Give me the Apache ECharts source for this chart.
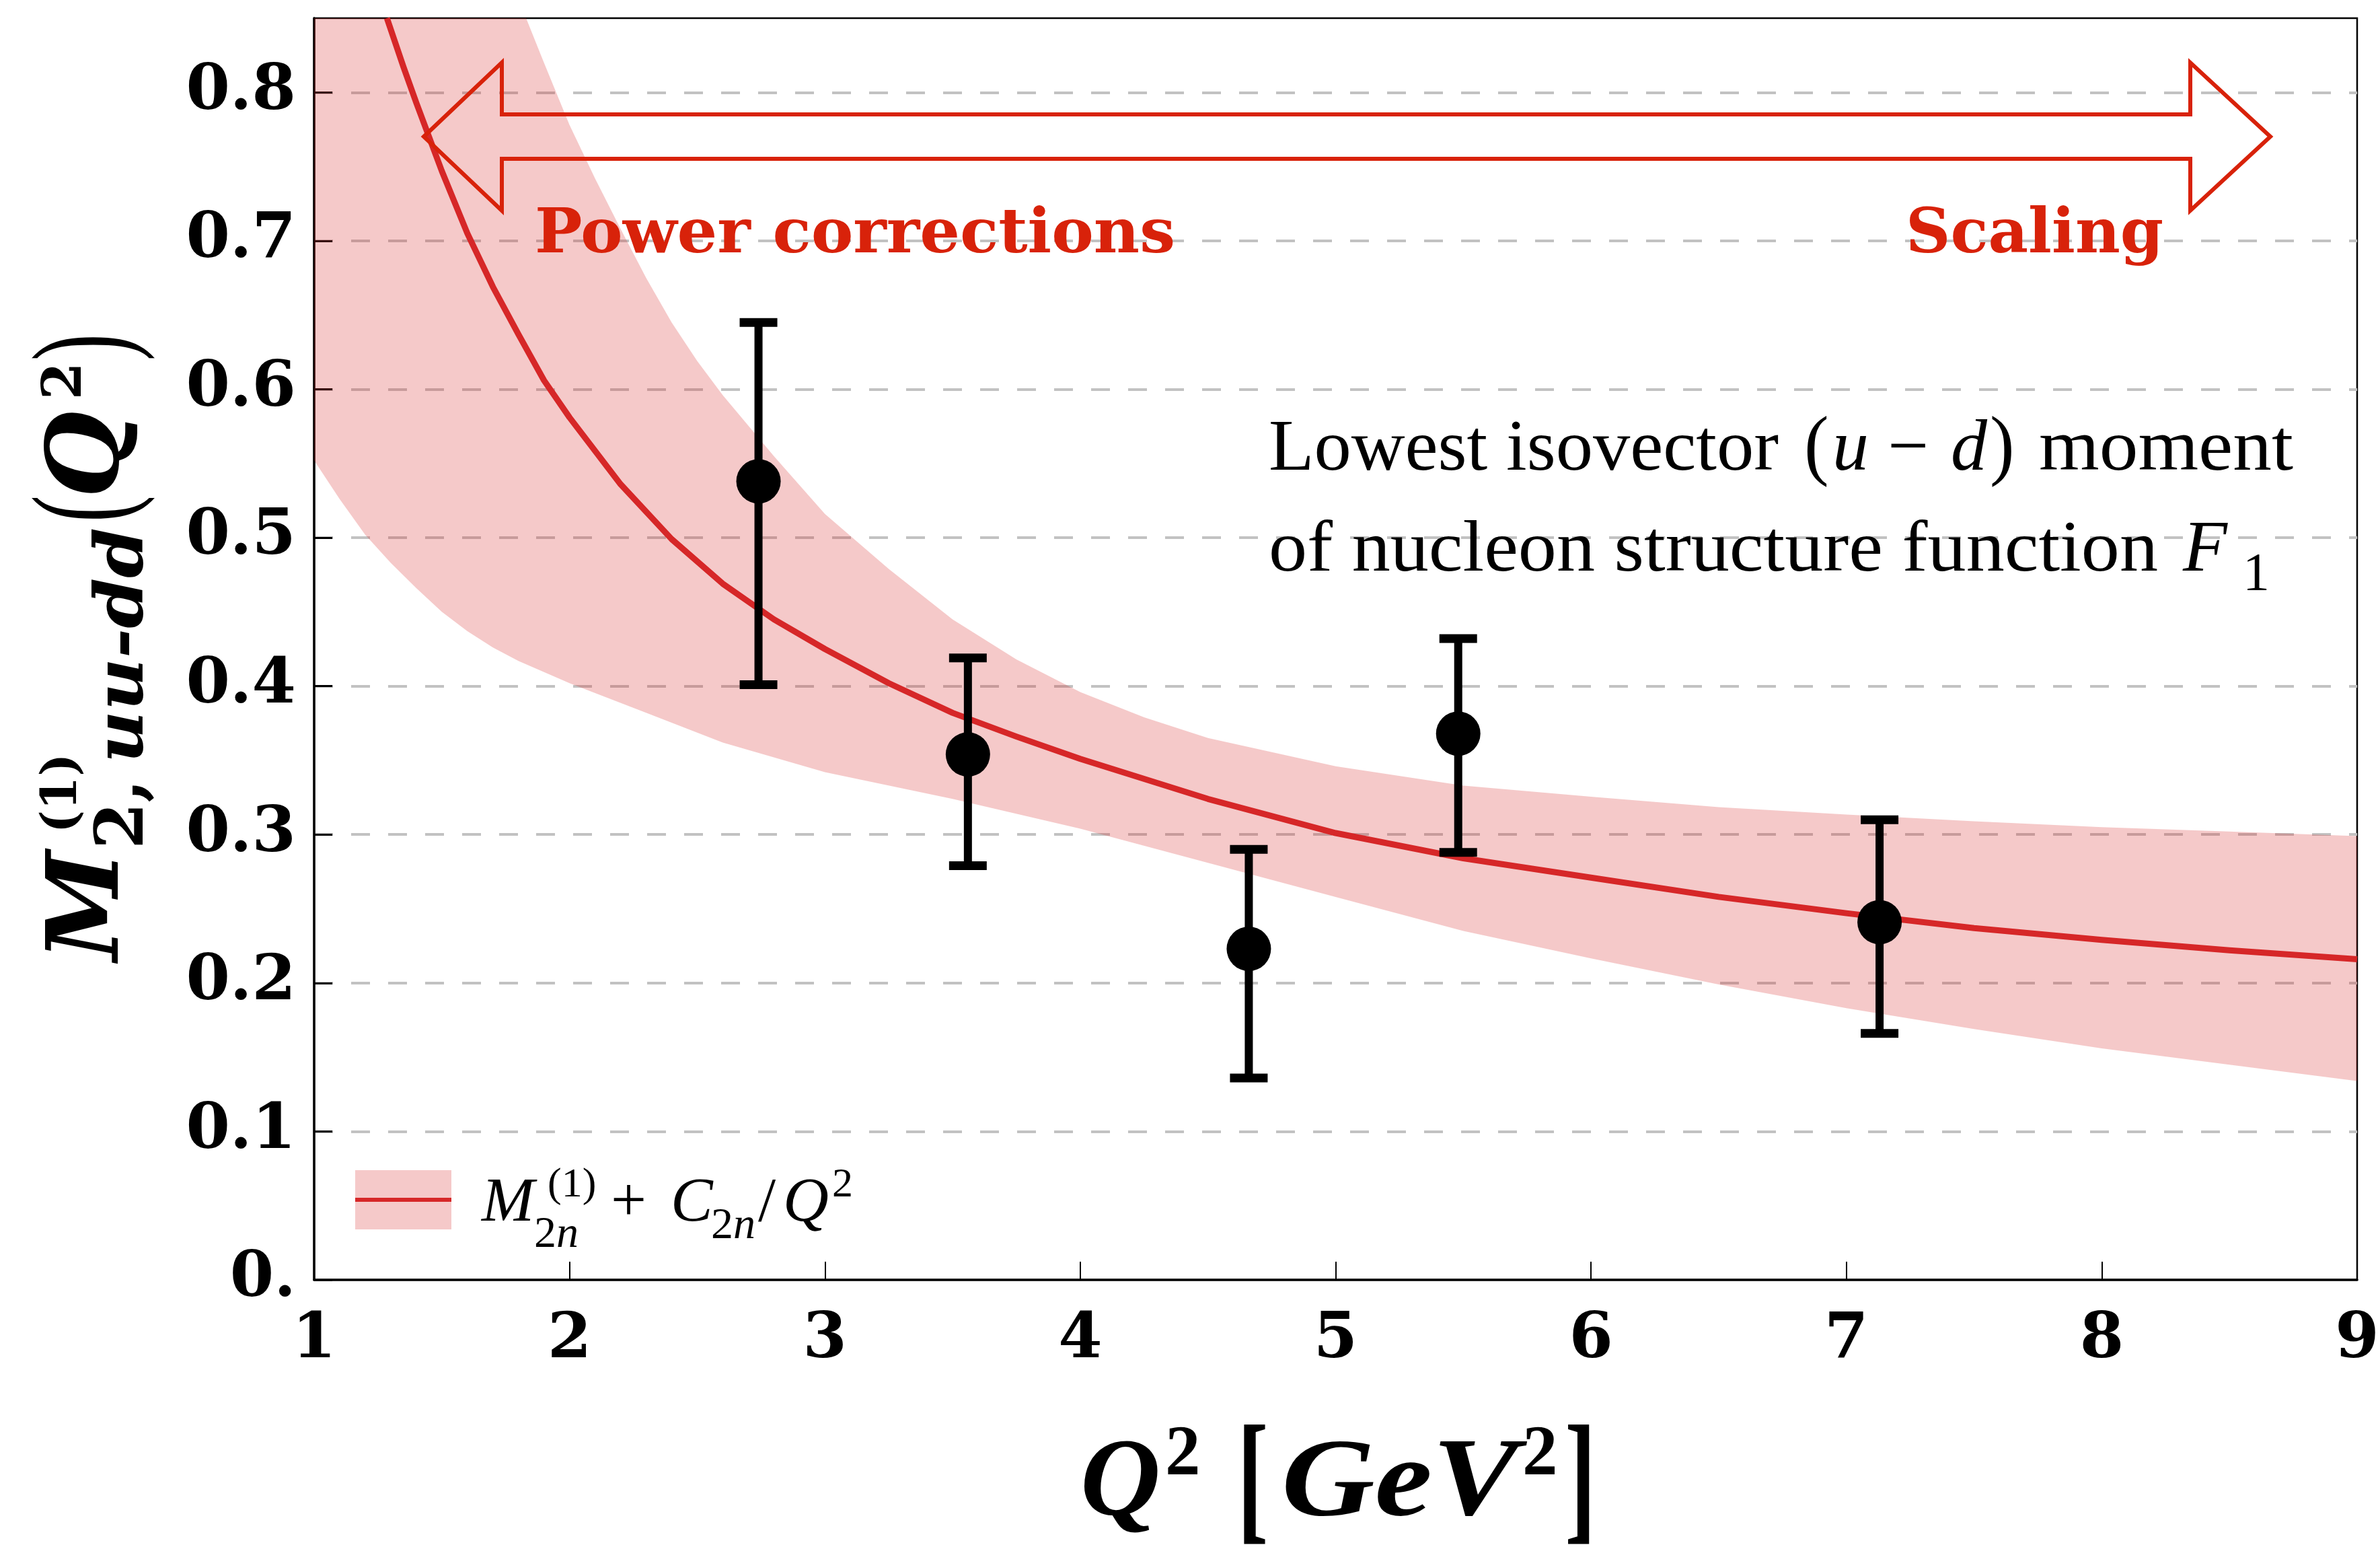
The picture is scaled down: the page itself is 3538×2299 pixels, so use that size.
<!DOCTYPE html>
<html>
<head>
<meta charset="utf-8">
<script src="https://cdn.jsdelivr.net/npm/echarts@6/dist/echarts.min.js"></script>
<style>
  html, body { margin: 0; padding: 0; background: #ffffff; }
  #chart { width: 3538px; height: 2299px; }
</style>
</head>
<body>
<div id="chart"></div>
<script>
// ---- Lattice data: lowest isovector moment vs Q^2 ----
const q2Points     = [2.74, 3.56, 4.66, 5.48, 7.13];
const momentValues = [0.538, 0.354, 0.223, 0.368, 0.241];
const errLower     = [0.401, 0.279, 0.136, 0.288, 0.166];
const errUpper     = [0.645, 0.419, 0.290, 0.432, 0.310];

// ---- Fit M + C/Q^2 : central curve ----
const fitQ2      = [1.285, 1.35, 1.4, 1.5, 1.6, 1.7, 1.8, 1.9, 2.0, 2.2, 2.4, 2.6, 2.8, 3.0, 3.25, 3.5, 3.75, 4.0, 4.5, 5.0, 5.5, 6.0, 6.5, 7.0, 7.5, 8.0, 8.5, 9.0];
const fitCentral = [0.85, 0.817, 0.793, 0.747, 0.705, 0.669, 0.637, 0.606, 0.581, 0.536, 0.499, 0.469, 0.445, 0.425, 0.402, 0.382, 0.366, 0.351, 0.324, 0.301, 0.284, 0.271, 0.258, 0.247, 0.237, 0.229, 0.222, 0.216];

// ---- Fit uncertainty band (upper edge runs off the top of the frame below Q^2 ~ 1.83) ----
const bandUpperQ2 = [1.0, 1.83, 1.9, 2.0, 2.1, 2.2, 2.3, 2.4, 2.5, 2.6, 2.8, 3.0, 3.25, 3.5, 3.75, 4.0, 4.25, 4.5, 5.0, 5.5, 6.0, 6.5, 7.0, 7.5, 8.0, 8.5, 9.0];
const bandUpper   = [0.85, 0.85, 0.820, 0.778, 0.742, 0.708, 0.675, 0.645, 0.619, 0.596, 0.555, 0.516, 0.479, 0.445, 0.418, 0.396, 0.379, 0.365, 0.346, 0.333, 0.3255, 0.3185, 0.3135, 0.309, 0.305, 0.302, 0.299];
const bandLowerQ2 = [1.0, 1.1, 1.2, 1.3, 1.4, 1.5, 1.6, 1.7, 1.8, 2.0, 2.3, 2.6, 3.0, 3.5, 4.0, 4.5, 5.0, 5.5, 6.0, 6.5, 7.0, 7.5, 8.0, 8.5, 9.0];
const bandLower   = [0.552, 0.526, 0.502, 0.483, 0.466, 0.450, 0.437, 0.426, 0.417, 0.402, 0.382, 0.362, 0.342, 0.324, 0.304, 0.281, 0.258, 0.235, 0.2166, 0.199, 0.183, 0.169, 0.156, 0.145, 0.134];

// ---- Axis ticks ----
const xTicks = [1, 2, 3, 4, 5, 6, 7, 8, 9];
const yTicks = [0, 0.1, 0.2, 0.3, 0.4, 0.5, 0.6, 0.7, 0.8];

// ---- Styling ----
const RED = '#d62728';
const ANNOT_RED = '#d8220a';
const BAND = 'rgba(214,39,40,0.25)';
const SERIF = '"DejaVu Serif"';
const TIMES = '"Liberation Serif"';

// ---- Text helpers: place runs on an alphabetic baseline ----
const mctx = document.createElement('canvas').getContext('2d');
function fontOf(o) {
  return (o.italic ? 'italic ' : '') + (o.bold ? 'bold ' : '') + o.size + 'px ' + o.family;
}
function baseShift(f) {
  mctx.font = f;
  mctx.textBaseline = 'alphabetic';
  const a = mctx.measureText('Hg').actualBoundingBoxAscent;
  mctx.textBaseline = 'middle';
  const m = mctx.measureText('Hg').actualBoundingBoxAscent;
  mctx.textBaseline = 'alphabetic';
  return a - m;
}
function textWidth(t, o) {
  mctx.font = fontOf(o);
  mctx.textBaseline = 'alphabetic';
  return mctx.measureText(t).width;
}
// a run of text; optional width stretches it horizontally to that advance width
function run(t, o, x, baseline, fill, width) {
  const f = fontOf(o);
  const el = { type: 'text', x: x, y: baseline - baseShift(f), z: 100,
    style: { text: t, font: f, fill: fill || '#000', align: 'left', verticalAlign: 'middle' } };
  if (width) el.scaleX = width / textWidth(t, o);
  return el;
}
// stretched delimiter centred at `center` with ink height `height`
function delim(t, o, x, center, height, fill) {
  const f = fontOf(o);
  mctx.font = f;
  mctx.textBaseline = 'middle';
  const m = mctx.measureText(t);
  mctx.textBaseline = 'alphabetic';
  const asc = m.actualBoundingBoxAscent, desc = m.actualBoundingBoxDescent;
  const s = height / (asc + desc);
  return { type: 'text', x: x, y: center - s * (desc - asc) / 2, scaleY: s, z: 100,
    style: { text: t, font: f, fill: fill || '#000', align: 'left', verticalAlign: 'middle' } };
}

// ---- Graphic annotations ----
const graphics = [];

// double-headed hollow arrow
graphics.push({
  type: 'polygon', z: 90,
  shape: { points: [[630, 203], [746, 93], [746, 170], [3256, 170], [3256, 93], [3375, 203],
                    [3256, 313], [3256, 236], [746, 236], [746, 313]] },
  style: { fill: 'none', stroke: ANNOT_RED, lineWidth: 6, lineJoin: 'miter' }
});
const fRed = { family: SERIF, bold: true, size: 92 };
graphics.push(run('Power corrections', fRed, 795, 375, ANNOT_RED, 952));
graphics.push(run('Scaling', fRed, 2833, 375, ANNOT_RED));

// description text
const fA = { family: TIMES, size: 108 };
const fAi = { family: TIMES, size: 108, italic: true };
graphics.push(run('Lowest isovector', fA, 1886, 698, null, 758));
graphics.push(delim('(', { family: TIMES, size: 110 }, 2682, 671, 107));
graphics.push(run('u', fAi, 2724, 698));
graphics.push(run('\u2212', fA, 2806, 698));
graphics.push(run('d', fAi, 2900, 698));
graphics.push(delim(')', { family: TIMES, size: 110 }, 2958, 671, 107));
graphics.push(run('moment', fA, 3031, 698, null, 378));
graphics.push(run('of nucleon structure function', fA, 1886, 848, null, 1322));
graphics.push(run('F', fAi, 3245, 848));
graphics.push(run('1', { family: TIMES, size: 80 }, 3334, 877));

// legend
graphics.push({ type: 'rect', z: 90, shape: { x: 528, y: 1739, width: 143, height: 88 }, style: { fill: BAND } });
graphics.push({ type: 'line', z: 91, shape: { x1: 528, y1: 1783, x2: 671, y2: 1783 }, style: { stroke: RED, lineWidth: 6 } });
const fL = { family: TIMES, size: 94, italic: true };
const fLsub = { family: TIMES, size: 66 };
const fLsubI = { family: TIMES, size: 66, italic: true };
graphics.push(run('M', fL, 716, 1814));
graphics.push(run('(1)', { family: TIMES, size: 62 }, 814, 1778));
graphics.push(run('2', fLsub, 794, 1853));
graphics.push(run('n', fLsubI, 794 + textWidth('2', fLsub), 1853));
graphics.push(run('+', { family: TIMES, size: 94 }, 908, 1814));
graphics.push(run('C', fL, 997, 1814));
graphics.push(run('2', fLsub, 1057, 1840));
graphics.push(run('n', fLsubI, 1057 + textWidth('2', fLsub), 1840));
graphics.push(run('/', { family: TIMES, size: 94 }, 1127, 1814));
graphics.push(run('Q', fL, 1164, 1814));
graphics.push(run('2', { family: TIMES, size: 62 }, 1237, 1778));

// x-axis title: Q^2 [GeV^2]
const fX = { family: TIMES, size: 165, bold: true, italic: true };
const fXsup = { family: TIMES, size: 105, bold: true };
graphics.push(run('Q', fX, 1606, 2251));
graphics.push(run('2', fXsup, 1732, 2191));
graphics.push(delim('[', { family: TIMES, size: 140, bold: true }, 1839, 2206, 178));
graphics.push(run('GeV', fX, 1905, 2251, null, 352));
graphics.push(run('2', fXsup, 2263, 2191));
graphics.push(delim(']', { family: TIMES, size: 140, bold: true }, 2326, 2206, 178));

// y-axis title: M^(1)_{2,uu-dd}(Q^2), laid out along the baseline then turned upright
const fY = { family: SERIF, size: 148, bold: true, italic: true };
const fYsub = { family: SERIF, size: 100, bold: true };
const fYsubI = { family: SERIF, size: 100, bold: true, italic: true };
const yTitle = [
  run('M', fY, 0, 0),
  run('(1)', { family: SERIF, size: 72, bold: true }, 190, -62),
  run('2,', fYsub, 166, 37),
  run('uu-dd', fYsubI, 294, 37, null, 350),
  delim('(', { family: TIMES, size: 120 }, 652, -37, 185),
  run('Q', fY, 688, 0),
  run('2', { family: SERIF, size: 80, bold: true }, 834, -55),
  delim(')', { family: TIMES, size: 120 }, 892, -37, 185)
];
graphics.push({ type: 'group', x: 175, y: 1428, rotation: Math.PI / 2, children: yTitle });

// ---- Chart ----
const chart = echarts.init(document.getElementById('chart'), null, { renderer: 'canvas' });

const tickFont = { fontFamily: SERIF, fontWeight: 'bold', fontSize: 94, color: '#000' };

const option = {
  animation: false,
  backgroundColor: '#ffffff',
  grid: {
    left: 467, top: 27, right: 34, bottom: 397,
    show: true, borderColor: '#000', borderWidth: 2.5, backgroundColor: 'transparent',
    outerBoundsMode: 'none'
  },
  xAxis: {
    type: 'value', min: xTicks[0], max: xTicks[xTicks.length - 1], interval: 1,
    axisLine: { show: true, onZero: false, lineStyle: { color: '#000', width: 3.5 } },
    axisTick: { show: true, inside: true, length: 27, lineStyle: { color: '#000', width: 2 } },
    axisLabel: { margin: 44, ...tickFont, formatter: v => String(v) },
    splitLine: { show: false }
  },
  yAxis: {
    type: 'value', min: yTicks[0], max: 0.85, interval: 0.1,
    axisLine: { show: true, onZero: false, lineStyle: { color: '#000', width: 3.5 } },
    axisTick: { show: true, inside: true, length: 27, lineStyle: { color: '#000', width: 3 } },
    axisLabel: {
      margin: 27, ...tickFont, showMaxLabel: false,
      formatter: v => {
        if (v > yTicks[yTicks.length - 1] + 1e-9) return '';
        return v === 0 ? '0.' : v.toFixed(1);
      }
    },
    splitLine: { show: true, showMinLine: false, showMaxLine: false,
      lineStyle: { color: '#c2c2c2', width: 4, type: [28, 27] } }
  },
  series: [
    {
      // uncertainty band
      type: 'custom', z: 1, silent: true,
      data: [[bandLowerQ2[0], bandLower[0]]],
      renderItem: (params, api) => {
        const pts = [];
        for (let i = 0; i < bandUpperQ2.length; i++) pts.push(api.coord([bandUpperQ2[i], bandUpper[i]]));
        for (let i = bandLowerQ2.length - 1; i >= 0; i--) pts.push(api.coord([bandLowerQ2[i], bandLower[i]]));
        const cs = params.coordSys;
        return {
          type: 'polygon', shape: { points: pts },
          style: { fill: BAND, stroke: null },
          clipPath: { type: 'rect', shape: { x: cs.x, y: cs.y, width: cs.width, height: cs.height } }
        };
      }
    },
    {
      // central fit curve
      type: 'line', z: 3, clip: true, showSymbol: false, silent: true, smooth: false,
      data: fitQ2.map((q, i) => [q, fitCentral[i]]),
      lineStyle: { color: RED, width: 9, join: 'round' }
    },
    {
      // error bars
      type: 'custom', z: 5, silent: true,
      encode: { x: 0, y: [1, 2] },
      data: q2Points.map((q, i) => [q, errLower[i], errUpper[i]]),
      renderItem: (params, api) => {
        const x = api.value(0);
        const lo = api.coord([x, api.value(1)]);
        const hi = api.coord([x, api.value(2)]);
        const cap = 28;
        return {
          type: 'group',
          children: [
            { type: 'line', shape: { x1: lo[0], y1: lo[1], x2: hi[0], y2: hi[1] }, style: { stroke: '#000', lineWidth: 12 } },
            { type: 'line', shape: { x1: hi[0] - cap, y1: hi[1], x2: hi[0] + cap, y2: hi[1] }, style: { stroke: '#000', lineWidth: 13 } },
            { type: 'line', shape: { x1: lo[0] - cap, y1: lo[1], x2: lo[0] + cap, y2: lo[1] }, style: { stroke: '#000', lineWidth: 13 } }
          ]
        };
      }
    },
    {
      // data points
      type: 'scatter', z: 6, silent: true,
      symbol: 'circle', symbolSize: 66,
      data: q2Points.map((q, i) => [q, momentValues[i]]),
      itemStyle: { color: '#000', opacity: 1 }
    }
  ],
  graphic: { elements: graphics }
};

chart.setOption(option);
</script>
</body>
</html>
